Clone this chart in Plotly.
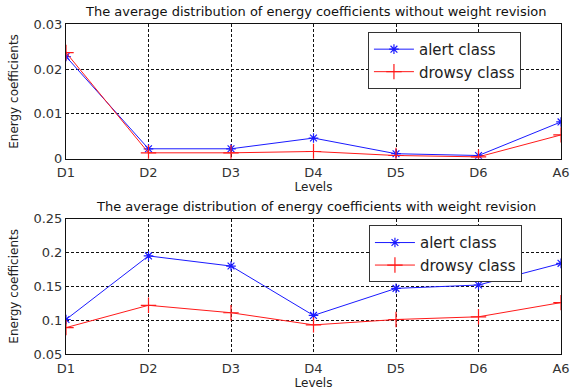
import plotly.graph_objects as go

levels = ["D1", "D2", "D3", "D4", "D5", "D6", "A6"]
alert_without = [0.0228, 0.0022, 0.0022, 0.0046, 0.0011, 0.0007, 0.0082]
drowsy_without = [0.0237, 0.0013, 0.0013, 0.0016, 0.0007, 0.0004, 0.0053]
alert_with = [0.101, 0.195, 0.180, 0.107, 0.147, 0.152, 0.184]
drowsy_with = [0.089, 0.122, 0.111, 0.093, 0.101, 0.105, 0.126]

title_top = "The average distribution of energy coefficients without weight revision"
title_bottom = "The average distribution of energy coefficients with weight revision"

FONT = "DejaVu Sans, sans-serif"
BLUE = "#1a1aff"
RED = "#ff1a1a"

fig = go.Figure()

def add_pair(alert, drowsy, xa, ya, legend):
    fig.add_trace(go.Scatter(x=levels, y=alert, name="alert class", mode="lines+markers",
                             line=dict(color=BLUE, width=1),
                             marker=dict(symbol="asterisk-open", size=8, color=BLUE,
                                         line=dict(color=BLUE, width=1.2)),
                             xaxis=xa, yaxis=ya, legend=legend))
    fig.add_trace(go.Scatter(x=levels, y=drowsy, name="drowsy class", mode="lines+markers",
                             line=dict(color=RED, width=1),
                             marker=dict(symbol="cross-thin-open", size=11, color=RED,
                                         line=dict(color=RED, width=1.2)),
                             xaxis=xa, yaxis=ya, legend=legend))

add_pair(alert_without, drowsy_without, "x", "y", "legend")
add_pair(alert_with, drowsy_with, "x2", "y2", "legend2")

axis_common = dict(showline=True, mirror=True, linecolor="#111", linewidth=1,
                   showgrid=True, gridcolor="#111", griddash="3px,2px", gridwidth=1,
                   ticks="", zeroline=False, automargin=False,
                   tickfont=dict(family=FONT, size=13, color="#333"))

legend_style = dict(xanchor="left", yanchor="top", bgcolor="white",
                    bordercolor="#333", borderwidth=1,
                    font=dict(family=FONT, size=15, color="#222"),
                    tracegroupgap=0, itemwidth=40)

fig.update_layout(
    width=571, height=390,
    margin=dict(l=66, r=10, t=24, b=36),
    plot_bgcolor="white", paper_bgcolor="white",
    font=dict(family=FONT, color="#222"),
    xaxis=dict(domain=[0, 1], anchor="y", type="category", range=[0, 6], ticklabelstandoff=2,
               title=dict(text="Levels", font=dict(size=12), standoff=2), **axis_common),
    yaxis=dict(domain=[0.592, 0.999], anchor="x", range=[0, 0.03], tickvals=[0, 0.01, 0.02, 0.03],
               title=dict(text="Energy coefficients", font=dict(size=12), standoff=12), **axis_common),
    xaxis2=dict(domain=[0, 1], anchor="y2", type="category", range=[0, 6], ticklabelstandoff=2,
                title=dict(text="Levels", font=dict(size=12), standoff=3), **axis_common),
    yaxis2=dict(domain=[0, 0.41], anchor="x2", range=[0.05, 0.25],
                tickvals=[0.05, 0.1, 0.15, 0.2, 0.25],
                title=dict(text="Energy coefficients", font=dict(size=12), standoff=12), **axis_common),
    legend=dict(x=0.61, y=0.976, **legend_style),
    legend2=dict(x=0.612, y=0.39, **legend_style),
    showlegend=True,
)

h_plot = 390 - 24 - 36
fig.add_annotation(text=title_top, x=0.505, y=(354 - 12) / h_plot, xref="paper", yref="paper",
                   yanchor="middle", showarrow=False, font=dict(family=FONT, size=13, color="#111"))
fig.add_annotation(text=title_bottom, x=0.505, y=(354 - 206) / h_plot, xref="paper", yref="paper",
                   yanchor="middle", showarrow=False, font=dict(family=FONT, size=13, color="#111"))

fig.write_html("out.html")
